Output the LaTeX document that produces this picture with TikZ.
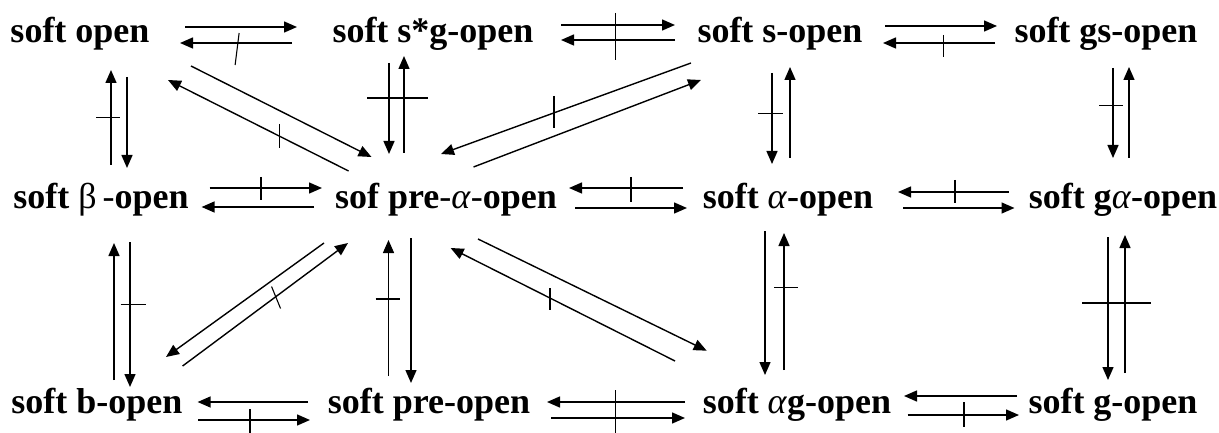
\documentclass[tikz,border=0pt]{standalone}
\usepackage{fontspec}
\setmainfont{Liberation Serif}
\usetikzlibrary{arrows.meta}

\newcommand{\gk}[1]{{\mdseries #1}}

\begin{document}
\begin{tikzpicture}[
  x=1pt, y=-1pt,
  term/.style={anchor=base, inner sep=0pt, font=\fontsize{36}{40}\selectfont\bfseries},
  imp/.style={-{Triangle[length=13pt, width=11pt]}, line width=1.4pt},
  nix/.style={line width=1.1pt}
]
  \path[use as bounding box, fill=white] (0,0) rectangle (1219,433);

  \node[term] (so)  at (80,43)   {soft open};
  \node[term] (sg)  at (433,43)  {soft s*g-open};
  \node[term] (ss)  at (780,43)  {soft s-open};
  \node[term] (sgs) at (1106,43) {soft gs-open};

  \node[term] (sbe) at (101,208)  {soft \gk{β\,-}open};
  \node[term] (spa) at (446,208)  {sof pre\gk{-\textit{α}-}open};
  \node[term] (sa)  at (788,208)  {soft \gk{\textit{α}}-open};
  \node[term] (sga) at (1123,208) {soft g\gk{\textit{α}}-open};

  \node[term] (sbo) at (97,413)   {soft b-open};
  \node[term] (sp)  at (429,413)  {soft pre-open};
  \node[term] (sag) at (797,413)  {soft \gk{\textit{α}}g-open};
  \node[term] (sgo) at (1113,413) {soft g-open};

  \draw[imp] ([shift={(105,-16)}]so.base) -- ([shift={(-136,-16)}]sg.base);
  \draw[imp] ([shift={(-141,0)}]sg.base) -- ([shift={(100,0)}]so.base) coordinate[pos=.49] (n1);
  \draw[nix] ([shift={(2,-10)}]n1) -- ([shift={(-2,22)}]n1);
  \draw[imp] ([shift={(128,-18)}]sg.base) -- ([shift={(-105,-18)}]ss.base);
  \draw[imp] ([shift={(-105,-3)}]ss.base) -- ([shift={(128,-3)}]sg.base) coordinate[pos=.52] (n2);
  \draw[nix] ([shift={(0,-27)}]n2) -- ([shift={(0,20)}]n2);
  \draw[imp] ([shift={(105,-17)}]ss.base) -- ([shift={(-109,-17)}]sgs.base);
  \draw[imp] ([shift={(-111,0)}]sgs.base) -- ([shift={(103,0)}]ss.base) coordinate[pos=.46] (n3);
  \draw[nix] ([shift={(0,-8)}]n3) -- ([shift={(0,14)}]n3);

  \draw[imp] ([shift={(10,-43)}]sbe.base) -- ([shift={(31,27)}]so.base) coordinate[pos=.5] (n4);
  \draw[nix] ([shift={(-15,0)}]n4) -- ([shift={(9,0)}]n4);
  \draw[imp] ([shift={(47,34)}]so.base) -- ([shift={(26,-40)}]sbe.base);
  \draw[imp] ([shift={(-44,20)}]sg.base) -- ([shift={(-57,-54)}]spa.base);
  \draw[imp] ([shift={(-42,-55)}]spa.base) -- ([shift={(-29,13)}]sg.base) coordinate[pos=.567] (n5);
  \draw[nix] ([shift={(-37,0)}]n5) -- ([shift={(24,0)}]n5);
  \draw[imp] ([shift={(-8,30)}]ss.base) -- ([shift={(-16,-44)}]sa.base) coordinate[pos=.45] (n6);
  \draw[nix] ([shift={(-14,0)}]n6) -- ([shift={(11,0)}]n6);
  \draw[imp] ([shift={(2,-50)}]sa.base) -- ([shift={(10,24)}]ss.base);
  \draw[imp] ([shift={(7,25)}]sgs.base) -- ([shift={(-10,-50)}]sga.base) coordinate[pos=.42] (n7);
  \draw[nix] ([shift={(-14,0)}]n7) -- ([shift={(10,0)}]n7);
  \draw[imp] ([shift={(6,-50)}]sga.base) -- ([shift={(23,24)}]sgs.base);

  \draw[imp] ([shift={(111,23)}]so.base) -- ([shift={(-74.5,-51)}]spa.base);
  \draw[imp] ([shift={(-97.4,-37)}]spa.base) -- ([shift={(88,37)}]so.base) coordinate[pos=.385] (n8);
  \draw[nix] ([shift={(0,-12)}]n8) -- ([shift={(0,12)}]n8);
  \draw[imp] ([shift={(-89,20)}]ss.base) -- ([shift={(-5,-54)}]spa.base) coordinate[pos=.548] (n9);
  \draw[nix] ([shift={(0,-17)}]n9) -- ([shift={(0,15)}]n9);
  \draw[imp] ([shift={(27.5,-41)}]spa.base) -- ([shift={(-79,37)}]ss.base);

  \draw[imp] ([shift={(108.5,-20)}]sbe.base) -- ([shift={(-124,-20)}]spa.base) coordinate[pos=.458] (n10);
  \draw[nix] ([shift={(0,-11)}]n10) -- ([shift={(0,12)}]n10);
  \draw[imp] ([shift={(-132,-1)}]spa.base) -- ([shift={(100.6,-1)}]sbe.base);
  \draw[imp] ([shift={(-105,-20)}]sa.base) -- ([shift={(123,-20)}]spa.base) coordinate[pos=.456] (n11);
  \draw[nix] ([shift={(0,-11)}]n11) -- ([shift={(0,14)}]n11);
  \draw[imp] ([shift={(129,0)}]spa.base) -- ([shift={(-101,0)}]sa.base);
  \draw[imp] ([shift={(-114.4,-16)}]sga.base) -- ([shift={(110,-16)}]sa.base) coordinate[pos=.485] (n12);
  \draw[nix] ([shift={(0,-12)}]n12) -- ([shift={(0,11)}]n12);
  \draw[imp] ([shift={(115,0)}]sa.base) -- ([shift={(-108.5,0)}]sga.base);

  \draw[imp] ([shift={(17,-33)}]sbo.base) -- ([shift={(13,35)}]sbe.base);
  \draw[imp] ([shift={(29,34)}]sbe.base) -- ([shift={(33,-26)}]sbo.base) coordinate[pos=.434] (n13);
  \draw[nix] ([shift={(-9.5,0)}]n13) -- ([shift={(15.5,0)}]n13);
  \draw[imp] ([shift={(-40.5,-37)}]sp.base) -- ([shift={(-57.5,32)}]spa.base) coordinate[pos=.566] (n14);
  \draw[nix] ([shift={(-13,0)}]n14) -- ([shift={(11.5,0)}]n14);
  \draw[imp] ([shift={(-35,30)}]spa.base) -- ([shift={(-18,-30)}]sp.base);
  \draw[imp] ([shift={(-23,23)}]sa.base) -- ([shift={(-32,-38)}]sag.base);
  \draw[imp] ([shift={(-13,-43)}]sag.base) -- ([shift={(-4,25)}]sa.base) coordinate[pos=.6] (n15);
  \draw[nix] ([shift={(-10,0)}]n15) -- ([shift={(13.6,0)}]n15);
  \draw[imp] ([shift={(-15,29)}]sga.base) -- ([shift={(-5,-33)}]sgo.base);
  \draw[imp] ([shift={(12,-40)}]sgo.base) -- ([shift={(2,27)}]sga.base) coordinate[pos=.507] (n16);
  \draw[nix] ([shift={(-43,0)}]n16) -- ([shift={(26,0)}]n16);

  \draw[imp] ([shift={(-122,35)}]spa.base) -- ([shift={(69,-56)}]sbo.base);
  \draw[imp] ([shift={(85.6,-47)}]sbo.base) -- ([shift={(-98,35)}]spa.base) coordinate[pos=.565] (n17);
  \draw[nix] ([shift={(-4.5,-10)}]n17) -- ([shift={(4.5,12)}]n17);
  \draw[imp] ([shift={(-122,-52)}]sag.base) -- ([shift={(4.6,40)}]spa.base) coordinate[pos=.557] (n18);
  \draw[nix] ([shift={(0,-10)}]n18) -- ([shift={(0,12)}]n18);
  \draw[imp] ([shift={(32,31)}]spa.base) -- ([shift={(-90.3,-62.3)}]sag.base);

  \draw[imp] ([shift={(-121,-11)}]sp.base) -- ([shift={(100.6,-11)}]sbo.base);
  \draw[imp] ([shift={(101,7)}]sbo.base) -- ([shift={(-119,7)}]sp.base) coordinate[pos=.464] (n19);
  \draw[nix] ([shift={(0,-11)}]n19) -- ([shift={(0,13)}]n19);
  \draw[imp] ([shift={(-112,-11)}]sag.base) -- ([shift={(118,-11)}]sp.base);
  \draw[imp] ([shift={(122,5)}]sp.base) -- ([shift={(-112,5)}]sag.base) coordinate[pos=.478] (n20);
  \draw[nix] ([shift={(0,-28)}]n20) -- ([shift={(0,15)}]n20);
  \draw[imp] ([shift={(-96,-17)}]sgo.base) -- ([shift={(107,-17)}]sag.base);
  \draw[imp] ([shift={(110.5,2)}]sag.base) -- ([shift={(-94,2)}]sgo.base) coordinate[pos=.507] (n21);
  \draw[nix] ([shift={(0,-13)}]n21) -- ([shift={(0,12)}]n21);
\end{tikzpicture}
\end{document}
